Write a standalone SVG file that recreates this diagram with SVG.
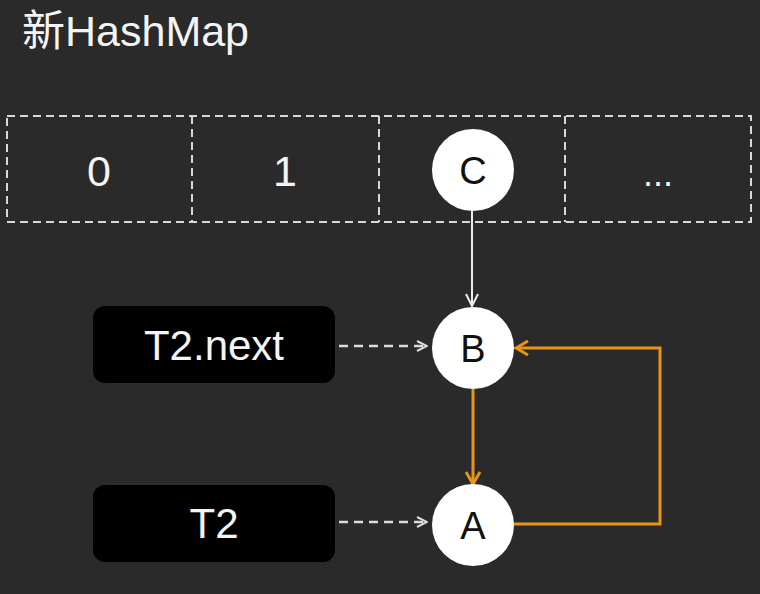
<svg xmlns="http://www.w3.org/2000/svg" width="760" height="594" viewBox="0 0 760 594">
<defs>
<style>
.txt{font-family:"Liberation Sans","Noto Sans CJK SC",Arial,sans-serif;}
.w{fill:#f4f4f4;}
.cell{fill:none;stroke:#d8d8d8;stroke-width:2;stroke-dasharray:8 5;}
.node{fill:#ffffff;}
.ntxt{fill:#111111;font-size:38px;text-anchor:middle;}
.box{fill:#000000;}
.btxt{fill:#f4f4f4;font-size:42px;text-anchor:middle;}
.dash{fill:none;stroke:#dcdcdc;stroke-width:2.5;stroke-dasharray:9 6;}
.white{fill:none;stroke:#ececec;stroke-width:2;}
.orange{fill:none;stroke:#E8931A;stroke-width:3;}
</style>
<marker id="ah-gray" viewBox="0 0 12 12" refX="11" refY="6" markerWidth="12" markerHeight="12" markerUnits="userSpaceOnUse" orient="auto">
<path d="M1 1 L11 6 L1 11" fill="none" stroke="#dcdcdc" stroke-width="2"/>
</marker>
<marker id="ah-white" viewBox="0 0 14 14" refX="13" refY="7" markerWidth="14" markerHeight="14" markerUnits="userSpaceOnUse" orient="auto">
<path d="M1 1 L13 7 L1 13" fill="none" stroke="#ececec" stroke-width="2"/>
</marker>
<marker id="ah-orange" viewBox="0 0 16 16" refX="14" refY="8" markerWidth="16" markerHeight="16" markerUnits="userSpaceOnUse" orient="auto">
<path d="M2 1 L14 8 L2 15" fill="none" stroke="#E8931A" stroke-width="3"/>
</marker>
</defs>
<rect width="760" height="594" fill="#2a2a2a"/>
<text class="txt w" x="22" y="46" font-size="43">新HashMap</text>

<g id="array">
<rect class="cell" x="7" y="116" width="744" height="106"/>
<line class="cell" x1="192" y1="116" x2="192" y2="222"/>
<line class="cell" x1="379" y1="116" x2="379" y2="222"/>
<line class="cell" x1="565" y1="116" x2="565" y2="222"/>
<text class="txt w" x="99" y="186" font-size="43" text-anchor="middle">0</text>
<text class="txt w" x="285" y="186" font-size="43" text-anchor="middle">1</text>
<text class="txt w" x="658" y="186" font-size="36" text-anchor="middle">...</text>
</g>

<g id="connectors">
<line class="white" x1="472" y1="210" x2="472" y2="306" marker-end="url(#ah-white)"/>
<line class="dash" x1="339" y1="346" x2="427" y2="346" marker-end="url(#ah-gray)"/>
<line class="dash" x1="339" y1="522" x2="427" y2="522" marker-end="url(#ah-gray)"/>
<line class="orange" x1="473" y1="389" x2="473" y2="484" marker-end="url(#ah-orange)"/>
<polyline class="orange" points="514,524 660,524 660,348 516,348" marker-end="url(#ah-orange)"/>
</g>

<g id="nodeC">
<circle class="node" cx="473" cy="170" r="41"/>
<text class="txt ntxt" x="473" y="184">C</text>
</g>
<g id="nodeB">
<circle class="node" cx="473" cy="348" r="41"/>
<text class="txt ntxt" x="473" y="362">B</text>
</g>
<g id="nodeA">
<circle class="node" cx="473" cy="525" r="41"/>
<text class="txt ntxt" x="473" y="539">A</text>
</g>
<g id="t2next">
<rect class="box" x="93" y="306" width="242" height="77" rx="12"/>
<text class="txt btxt" x="214" y="360">T2.next</text>
</g>
<g id="t2">
<rect class="box" x="93" y="485" width="242" height="77" rx="12"/>
<text class="txt btxt" x="214" y="538">T2</text>
</g>
</svg>
